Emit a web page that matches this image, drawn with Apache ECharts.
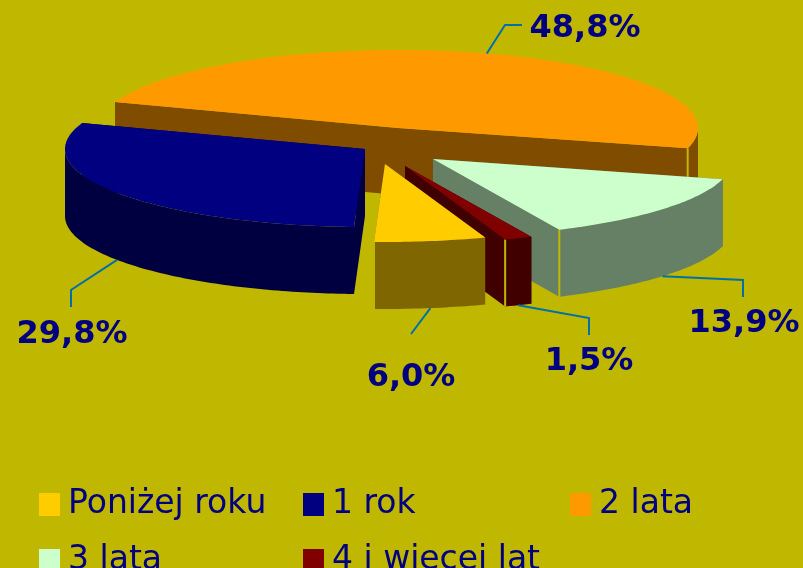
<!DOCTYPE html>
<html>
<head>
<meta charset="utf-8">
<style>html,body{margin:0;padding:0;background:#C0B800;overflow:hidden}#c{width:803px;height:568px}</style>
<script src="https://cdn.jsdelivr.net/npm/echarts@6/dist/echarts.min.js"></script>
</head>
<body>
<div id="c"></div>
<script>
// --- data ---
var categories = ['Poniżej roku', '1 rok', '2 lata', '3 lata', '4 i więcej lat'];
var shares = [6.0, 29.8, 48.8, 13.9, 1.5];
// --- styles ---
var topColors = ['#FFCC00', '#000080', '#FF9900', '#CCFFCC', '#800000'];
var wallColors = ['#806600', '#000040', '#804D00', '#668066', '#400000'];
var drawOrder = [5, 2, 1, 3, 4];
var startAngle = 160.5;
var radiusX = 300, radiusY = 78, depth = 67;
var explodedCentres = [[385, 164], [365, 149], [398, 128], [433, 159], [405, 166]];
var leaderElbows = [[[411, 334]], [[71, 290], [71, 307]], [[505, 25], [522, 25]], [[743, 280], [743, 297]], [[589, 318], [589, 335]]];
var labelCentres = [[411, 378], [72, 335], [585, 29], [744, 324], [589, 362]];
var legendSpots = [[39, 488], [303, 488], [570, 488], [39, 544], [303, 544]];
var bg = '#C0B800', navy = '#000080', leaderColor = '#0070A8';

var total = shares.reduce(function (a, b) { return a + b; }, 0);
var spans = [], acc = startAngle;
shares.forEach(function (v) {
  var s = v / total * 360;
  spans.push([acc, acc + s]);
  acc += s;
});

function pt(c, deg) {
  var r = deg * Math.PI / 180;
  return [c[0] + radiusX * Math.sin(r), c[1] - radiusY * Math.cos(r)];
}
function down(p) { return [p[0], p[1] + depth]; }

function sliceGroup(i) {
  var c = explodedCentres[i], a = spans[i][0], b = spans[i][1];
  var children = [], n = Math.max(2, Math.ceil(b - a)), arc = [], front = [], k, t, p;
  for (k = 0; k <= n; k++) {
    t = a + (b - a) * k / n;
    p = pt(c, t);
    arc.push(p);
    if (Math.cos(t * Math.PI / 180) <= 0.001) front.push(p);
  }
  var s = pt(c, a), e = pt(c, b), cd = down(c);
  children.push({ type: 'polygon', shape: { points: [c, s, down(s), cd] }, style: { fill: wallColors[i] } });
  children.push({ type: 'polygon', shape: { points: [c, e, down(e), cd] }, style: { fill: wallColors[i] } });
  if (front.length > 1) {
    var wall = front.concat(front.slice().reverse().map(down));
    children.push({ type: 'polygon', shape: { points: wall }, style: { fill: wallColors[i] } });
  }
  if (Math.cos(b * Math.PI / 180) < 0) {
    children.push({ type: 'line', shape: { x1: e[0], y1: e[1], x2: e[0], y2: e[1] + depth }, style: { stroke: bg, lineWidth: 2 } });
  }
  children.push({ type: 'polygon', shape: { points: [c].concat(arc) }, style: { fill: topColors[i] } });

  var mid = (a + b) / 2, anchor = pt(c, mid);
  if (Math.cos(mid * Math.PI / 180) < 0) anchor = down(anchor);
  children.push({ type: 'polyline', shape: { points: [anchor].concat(leaderElbows[i]) }, style: { stroke: leaderColor, lineWidth: 2, fill: null } });
  children.push({
    type: 'text',
    style: {
      x: labelCentres[i][0], y: labelCentres[i][1],
      text: shares[i].toFixed(1).replace('.', ',') + '%',
      fill: navy, align: 'center', verticalAlign: 'middle',
      font: 'bold 32px "DejaVu Sans"'
    }
  });
  return { type: 'group', children: children };
}

var series = categories.map(function (name, i) {
  return {
    type: 'custom',
    name: name,
    coordinateSystem: 'none',
    z: drawOrder[i],
    silent: true,
    animation: false,
    itemStyle: { color: topColors[i] },
    data: [shares[i]],
    renderItem: function () { return sliceGroup(i); }
  };
});

var legends = categories.map(function (name, i) {
  return {
    data: [name],
    left: legendSpots[i][0],
    top: legendSpots[i][1],
    padding: 0,
    itemWidth: 21,
    itemHeight: 23,
    icon: 'rect',
    selectedMode: false,
    textStyle: { color: navy, fontFamily: 'DejaVu Sans', fontSize: 33, padding: [0, 0, 0, 3] }
  };
});

var chart = echarts.init(document.getElementById('c'), null, { renderer: 'canvas' });
chart.setOption({ backgroundColor: bg, animation: false, legend: legends, series: series });
</script>
</body>
</html>
